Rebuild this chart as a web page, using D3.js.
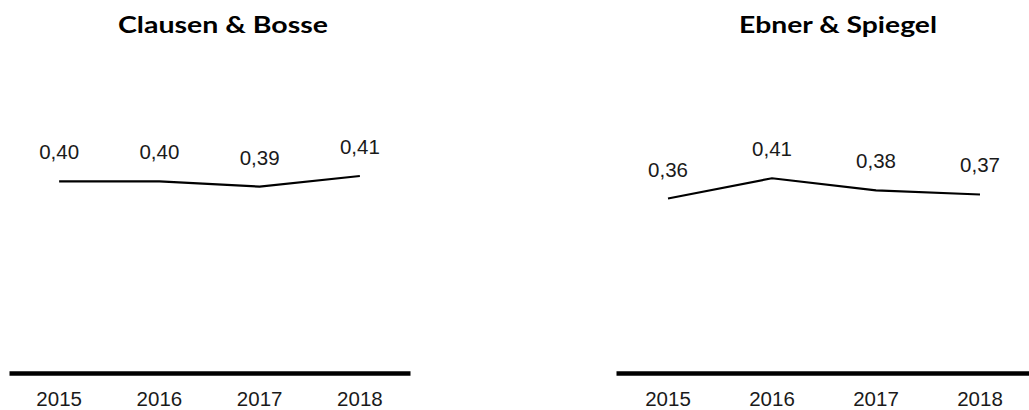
<!DOCTYPE html>
<html>
<head>
<meta charset="utf-8">
<script src="https://cdn.jsdelivr.net/npm/d3@7"></script>
<style>
  html, body { margin: 0; padding: 0; background: #fff; }
  svg { display: block; }
</style>
</head>
<body>
<svg id="chart" width="1029" height="410"></svg>
<script>
// Ratio per year for two firms
const years = ["2015", "2016", "2017", "2018"];
const clausenBosse = [0.40, 0.40, 0.39, 0.41];
const ebnerSpiegel = [0.36, 0.41, 0.38, 0.37];
const titles = ["Clausen & Bosse", "Ebner & Spiegel"];

const svg = d3.select("#chart");
const fmt = v => d3.format(".2f")(v).replace(".", ",");

const panels = [
  { title: titles[0], values: clausenBosse, x0: 9, x1: 410, domain: [0.04, 0.44], titleX: 223, titleW: 210 },
  { title: titles[1], values: ebnerSpiegel, x0: 616, x1: 1032, domain: [-0.07, 0.455], titleX: 838, titleW: 198 }
];

const baseY = 373, topY = 160;
const textFont = "'Liberation Sans', Arial, sans-serif";

panels.forEach(p => {
  const g = svg.append("g");
  const x = d3.scaleBand().domain(years).range([p.x0, p.x1]);
  const y = d3.scaleLinear().domain(p.domain).range([baseY, topY]);
  const cx = d => x(d) + x.bandwidth() / 2;

  // title
  g.append("text")
    .attr("x", p.titleX).attr("y", 33)
    .attr("text-anchor", "middle")
    .attr("font-family", "Lato, 'DejaVu Sans', sans-serif")
    .attr("font-weight", 700)
    .attr("font-size", 23.5)
    .attr("textLength", p.titleW)
    .attr("lengthAdjust", "spacingAndGlyphs")
    .attr("fill", "#000")
    .text(p.title);

  // baseline axis
  const axis = d3.axisBottom(x).tickSize(0).tickPadding(0);
  const ag = g.append("g").attr("transform", `translate(0,${baseY})`).call(axis);
  ag.select(".domain").attr("stroke", "#000").attr("stroke-width", 4.5);
  ag.selectAll(".tick text")
    .attr("y", 33).attr("dy", 0)
    .attr("font-family", textFont)
    .attr("font-size", 20.5)
    .attr("fill", "#1a1a1a");

  // line
  const line = d3.line().x((d, i) => cx(years[i])).y(d => y(d));
  g.append("path")
    .datum(p.values)
    .attr("d", line)
    .attr("fill", "none")
    .attr("stroke", "#000")
    .attr("stroke-width", 2.2);

  // value labels
  g.selectAll(".val")
    .data(p.values)
    .join("text")
    .attr("class", "val")
    .attr("x", (d, i) => cx(years[i]))
    .attr("y", d => y(d) - 22)
    .attr("text-anchor", "middle")
    .attr("font-family", textFont)
    .attr("font-size", 20.5)
    .attr("fill", "#1a1a1a")
    .text(d => fmt(d));
});
</script>
</body>
</html>
